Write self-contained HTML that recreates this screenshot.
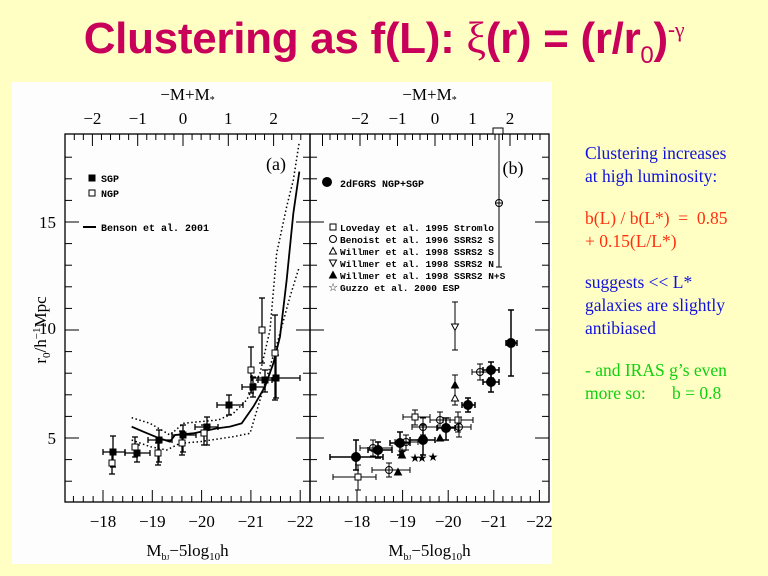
<!DOCTYPE html>
<html><head><meta charset="utf-8"><style>
body{margin:0;background:#ffffc4;width:768px;height:576px;overflow:hidden;position:relative;font-family:"Liberation Serif",serif}
#t{position:absolute;left:0;width:768px;top:13px;text-align:center;font:bold 44px "Liberation Sans",sans-serif;color:#c8005a;letter-spacing:-0.3px;white-space:nowrap}
.r{position:absolute;left:585px;font-size:17.5px;line-height:23px;white-space:nowrap}
</style></head><body>
<div id="t">Clustering as f(L): <span style="font-family:'Liberation Serif',serif;font-weight:normal">ξ</span>(r) = (r/r<span style="font-size:24px;position:relative;top:10px;font-weight:normal">0</span>)<span style="font-size:22px;position:relative;top:-16px;font-weight:normal">-<span style="font-family:'Liberation Serif',serif">γ</span></span></div>
<div class="r" style="top:142px;color:#1010e0">Clustering increases<br>at high luminosity:</div>
<div class="r" style="top:207px;color:#ff3010">b(L) / b(L*) &nbsp;= &nbsp;0.85<br>+ 0.15(L/L*)</div>
<div class="r" style="top:271px;color:#1010e0">suggests &lt;&lt; L*<br>galaxies are slightly<br>antibiased</div>
<div class="r" style="top:359px;color:#10d010">- and IRAS g’s even<br>more so: &nbsp;&nbsp;&nbsp;&nbsp;&nbsp;b = 0.8</div>
<svg id="s" width="768" height="576" style="position:absolute;left:0;top:0" font-family="Liberation Serif,serif"></svg>
<script>
var o='<rect x="12" y="82" width="540" height="482" fill="#fdfdfd"/>';
function L(x1,y1,x2,y2,w){o+=`<line x1="${x1}" y1="${y1}" x2="${x2}" y2="${y2}" stroke="#000" stroke-width="${w||1}"/>`}
function T(x,y,s,fs,a,ex){o+=`<text x="${x}" y="${y}" font-size="${fs}" text-anchor="${a||'middle'}" ${ex||''}>${s}</text>`}
var TOP=134,BOT=502;function Y(r){return 438-(r-5)*21.6}
var P=[{l:65,r:310,xb:m=>103+(m-18)*49.3,xt:v=>183+v*45.3},{l:310,r:549,xb:m=>357+(m-18)*45.6,xt:v=>435+v*37.5}];
P.forEach((p,i)=>{
 o+=`<rect x="${p.l}" y="${TOP}" width="${p.r-p.l}" height="${BOT-TOP}" fill="none" stroke="#000" stroke-width="1.3"/>`;
 for(var r=3;r<=18;r++){var y=Y(r),len=r%5==0?14:7;L(p.l,y,p.l+len,y);L(p.r-len,y,p.r,y)}
 for(var m=17.2;m<=22.9;m+=0.2){var x=p.xb(m);if(x<p.l+1||x>p.r-1)continue;var mj=Math.abs(m-Math.round(m))<0.01;L(x,BOT,x,BOT-(mj?12:6))}
 for(var v=-3;v<=3;v+=0.2){var x=p.xt(v);if(x<p.l+1||x>p.r-1)continue;var mj=Math.abs(v-Math.round(v))<0.01;L(x,TOP,x,TOP+(mj?12:6))}
 for(var m=18;m<=22;m++)T(p.xb(m),527,'−'+m,17);
 for(var v=-2;v<=2;v++)T(p.xt(v),124,(v<0?'−':'')+Math.abs(v),17);
 var cx=(p.l+p.r)/2;T(cx,556,'M<tspan font-size="10" dy="4">b<tspan font-size="7">J</tspan></tspan><tspan dy="-4">−5log</tspan><tspan font-size="11" dy="4">10</tspan><tspan dy="-4">h</tspan>',17);
 T(cx,100,'−M+M<tspan font-size="10" dy="3">*</tspan>',17);
});
T(56,228,'15',17,'end');T(56,334,'10',17,'end');T(56,444,'5',17,'end');
T(0,0,'r<tspan font-size="11" dy="4">0</tspan><tspan dy="-4">/h</tspan><tspan font-size="11" dy="-6">−1</tspan><tspan dy="6">Mpc</tspan>',17,'middle','transform="translate(46,330) rotate(-90)"');
function pl(pts,ex){o+=`<polyline points="${pts.map(q=>q.join(',')).join(' ')}" fill="none" stroke="#000" ${ex}/>`}
var A=(a)=>a.map(q=>[60+q[0]/3,80+q[1]/3]);
pl(A([[215,1040],[250,1055],[298,1075],[330,1085],[345,1065],[400,1060],[470,1045],[510,1040],[545,1030],[580,980],[615,920],[640,850],[660,770],[680,600],[700,400],[718,275]]),'stroke-width="1.8"');
pl(A([[215,1013],[270,1030],[330,1065],[370,1030],[420,1025],[475,1020],[520,1000],[560,960],[600,880],[630,750],[650,520],[680,380],[700,300],[718,185]]),'stroke-width="1.5" stroke-dasharray="1.5,2.5"');
pl(A([[215,1080],[270,1100],[320,1110],[360,1090],[420,1085],[520,1070],[570,1060],[600,960],[630,860],[660,760],[690,650],[718,560]]),'stroke-width="1.5" stroke-dasharray="1.5,2.5"');
function eb(x,y,x1,x2,y1,y2,w){w=w||1.3;if(x1!=null){L(x1,y,x2,y,w);L(x1,y-3,x1,y+3,w);L(x2,y-3,x2,y+3,w)}if(y1!=null){L(x,y1,x,y2,w);L(x-3,y1,x+3,y1,w);L(x-3,y2,x+3,y2,w)}}
function sq(x,y,f,s){s=s||3;o+=`<rect x="${x-s}" y="${y-s}" width="${2*s}" height="${2*s}" fill="${f?'#000':'#fff'}" stroke="#000"/>`}
function ci(x,y,f,s){s=s||3.5;o+=`<circle cx="${x}" cy="${y}" r="${s}" fill="${f?'#000':'none'}" stroke="#000"/>`}
function tri(x,y,f,d){d=d||1;o+=`<polygon points="${x},${y-3.5*d} ${x-3.5},${y+3*d} ${x+3.5},${y+3*d}" fill="${f?'#000':'#fff'}" stroke="#000"/>`}
[[113,452,103,125,436,467],[137,453,125,150,445,462],[159,440,148,172,430,462],[183,435,172,196,425,452],[207,427,195,218,417,445],[229,405,217,243,395,415],[253,387,242,265,377,397],[265,380,258,272,370,392],[276,378,252,300,355,398]].forEach(d=>{eb(d[0],d[1],d[2],d[3],d[4],d[5]);sq(d[0],d[1],1)});
[[112,463,null,null,452,474],[135,447,null,null,437,457],[158,453,null,null,443,465],[182,443,null,null,431,455],[204,433,null,null,425,445],[251,370,null,null,347,393],[262,330,null,null,298,363],[275,353,null,null,315,400]].forEach(d=>{eb(d[0],d[1],null,null,d[4],d[5]);sq(d[0],d[1],0)});
sq(92,178,1);sq(92,193,0);L(83,227,96,227,2);
o+='<g font-family="Liberation Mono,monospace" font-weight="bold" font-size="10">';
T(101,182,'SGP',10,'start');T(101,197,'NGP',10,'start');T(101,231,'Benson et al. 2001',10,'start');
T(340,187,'2dFGRS NGP+SGP',10,'start');
['Loveday et al. 1995 Stromlo','Benoist et al. 1996 SSRS2 S','Willmer et al. 1998 SSRS2 S','Willmer et al. 1998 SSRS2 N','Willmer et al. 1998 SSRS2 N+S','Guzzo et al. 2000 ESP'].forEach((s,i)=>T(340,231+i*12,s,9.5,'start'));
o+='</g>';
T(276,170,'(a)',18);T(513,174,'(b)',18);
ci(327,182,1,4.5);sq(333,227,0,3);ci(333,239,0,3.5);tri(333,251,0);tri(333,263,0,-1);tri(333,275,1);o+=`<text x="333" y="291" font-size="11" text-anchor="middle">☆</text>`;
eb(499,203,null,null,134,267,1);ci(499,203,0);L(499,199,499,207);L(495,203,503,203);o+='<rect x="493" y="128" width="10" height="6" fill="#fff" stroke="#000"/>';
[[358,477,333,376,465,490],[415,417,403,430,410,425],[458,420,443,473,412,432]].forEach(d=>{eb(d[0],d[1],d[2],d[3],d[4],d[5],1);sq(d[0],d[1],0)});
[[373,448,360,392,440,456],[389,470,372,410,463,477],[406,442,395,418,435,450],[423,427,412,438,418,435],[440,420,430,450,412,428],[459,427,447,471,417,437],[480,372,472,490,364,380]].forEach(d=>{eb(d[0],d[1],d[2],d[3],d[4],d[5],1);ci(d[0],d[1],0)});
eb(455,327,null,null,302,350,1);tri(455,327,0,-1);
eb(455,385,null,null,375,405,1);tri(455,385,1);tri(455,398,0);tri(440,438,1);tri(398,472,1);tri(402,455,1);
[[415,458],[433,457],[422,458],[402,452]].forEach(q=>o+=`<text x="${q[0]}" y="${q[1]+4}" font-size="12" text-anchor="middle">★</text>`);
[[356,457,330,383,440,470],[378,450,368,392,442,458],[400,443,390,410,432,455],[423,440,410,435,425,455],[446,428,437,455,418,440],[468,405,462,475,398,412],[491,382,483,499,372,392],[491,370,483,499,362,378],[511,343,506,517,310,376]].forEach(d=>{eb(d[0],d[1],d[2],d[3],d[4],d[5],1.5);ci(d[0],d[1],1,4.5)});
document.getElementById('s').innerHTML=o;
</script>
</body></html>
